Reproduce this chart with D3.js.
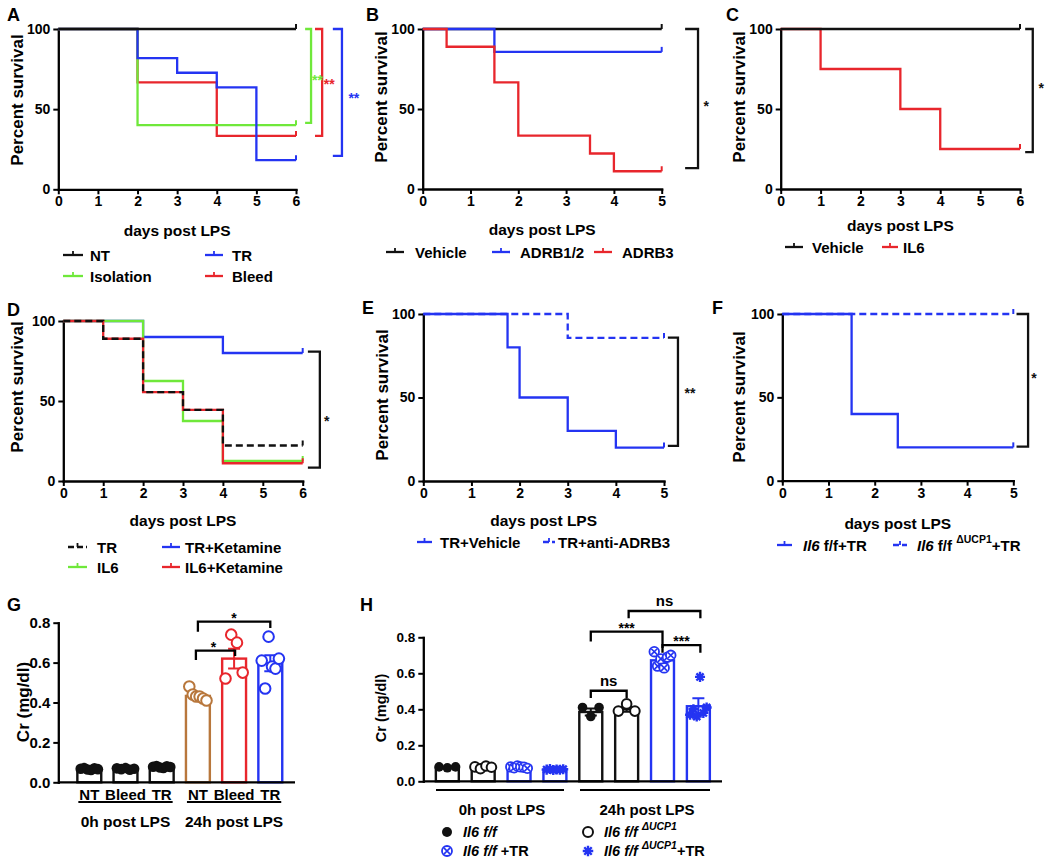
<!DOCTYPE html>
<html><head><meta charset="utf-8">
<script src="https://cdn.jsdelivr.net/npm/d3@7"></script>
<style>body{margin:0;background:#fff}svg{display:block}text{font-family:'Liberation Sans',Arial,Helvetica,sans-serif;font-weight:bold}</style>
</head><body><script>
// ================= DATA =================
// Panel A (survival %, step times in days)
const A_NT_t=[0,6], A_NT_v=[100,100];
const A_TR_t=[0,2,3,4,5,6], A_TR_v=[100,81.8,72.7,63.6,18.2,18.2];
const A_ISO_t=[0,2,6], A_ISO_v=[100,40,40];
const A_BLEED_t=[0,2,4,6], A_BLEED_v=[100,66.7,33.3,33.3];
// Panel B
const B_VEH_t=[0,5], B_VEH_v=[100,100];
const B_ADRB12_t=[0,1.5,5], B_ADRB12_v=[100,85.7,85.7];
const B_ADRB3_t=[0,0.5,1.5,2,3.5,4,5], B_ADRB3_v=[100,88.9,66.7,33.3,22.2,11.1,11.1];
// Panel C
const C_VEH_t=[0,6], C_VEH_v=[100,100];
const C_IL6_t=[0,1,3,4,6], C_IL6_v=[100,75,50,25,25];
// Panel D
const D_TR_t=[0,1,2,3,4,6], D_TR_v=[100,88.9,55.6,44.4,22.2,22.2];
const D_TRK_t=[0,2,4,6], D_TRK_v=[100,90,80,80];
const D_IL6_t=[0,2,3,4,6], D_IL6_v=[100,62.5,37.5,12.5,12.5];
const D_IL6K_t=[0,1,2,3,4,6], D_IL6K_v=[100,88.9,55.6,44.4,11.1,11.1];
// Panel E
const E_VEH_t=[0,1.75,2,3,4,5], E_VEH_v=[100,80,50,30,20,20];
const E_ANTI_t=[0,3,5], E_ANTI_v=[100,85.7,85.7];
// Panel F
const F_FF_t=[0,1.5,2.5,5], F_FF_v=[100,40,20,20];
const F_KO_t=[0,5], F_KO_v=[100,100];
// Survival tick labels
const SURV_Y_TICKS=[0,50,100];
// Panel G (Cr mg/dl)
const G_ids=['NT0','Bleed0','TR0','NT24','Bleed24','TR24'];
const G_labels=['NT','Bleed','TR','NT','Bleed','TR'];
const G_groups=['0h post LPS','24h post LPS'];
const G_mean=[0.065,0.066,0.076,0.433,0.62,0.597];
const G_sem=[0.003,0.003,0.003,0.01,0.05,0.04];
const G_pts=[[0.068,0.072,0.064,0.062,0.07,0.066],[0.07,0.066,0.072,0.063,0.068],[0.078,0.082,0.074,0.072,0.08,0.077],[0.48,0.44,0.43,0.43,0.42,0.41],[0.52,0.74,0.70,0.55],[0.61,0.47,0.73,0.58,0.57,0.62]];
const G_yticks=[0,0.2,0.4,0.6,0.8];
// Panel H
const H_ids=['ff0','ko0','ffTR0','koTR0','ff24','ko24','ffTR24','koTR24'];
const H_groups=['0h post LPS','24h post LPS'];
const H_mean=[0.075,0.075,0.076,0.066,0.385,0.40,0.672,0.417];
const H_sem=[0.002,0.003,0.002,0.002,0.02,0.013,0.013,0.045];
const H_pts=[[0.08,0.075,0.08],[0.08,0.07,0.085,0.078],[0.08,0.075,0.085,0.08,0.078,0.072],[0.065,0.068,0.063,0.066,0.064,0.067],[0.41,0.36,0.41],[0.39,0.43,0.39],[0.72,0.64,0.68,0.63,0.69,0.70],[0.37,0.40,0.36,0.58,0.38,0.41]];
const H_yticks=[0,0.2,0.4,0.6,0.8];

// ================= STYLE =================
const BLACK='#111', BLUE='#2434f2', RED='#e8262c', GREEN='#6fe83a', BROWN='#b8773c';

const W=1050,H=861;
const svg=d3.select('body').append('svg').attr('width',W).attr('height',H);
svg.append('rect').attr('width',W).attr('height',H).attr('fill','#fff');

function styleAxis(g,fs){
  g.attr('font-family',null).attr('font-size',null);
  g.select('.domain').attr('stroke','#000').attr('stroke-width',2.3).attr('stroke-linecap','square');
  g.selectAll('.tick line').attr('stroke','#000').attr('stroke-width',2);
  g.selectAll('.tick text').attr('fill','#000').style('font-size',fs+'px').style('font-weight','bold');
}
function txt(x,y,s,fs,anchor){
  return svg.append('text').attr('x',x).attr('y',y).attr('font-size',fs).attr('text-anchor',anchor||'start').attr('dominant-baseline','central').text(s);
}
function star(x,y,s,fs,color){ // asterisks: glyph sits high, shift baseline
  return svg.append('text').attr('x',x).attr('y',y+fs*0.58).attr('font-size',fs).attr('text-anchor','middle').attr('fill',color||'#000').text(s);
}
function richText(t,parts){
  parts.forEach(p=>{
    const ts=t.append('tspan').text(p.s);
    if(p.i) ts.attr('font-style','italic');
    if(p.sup) ts.attr('font-size',10.5).attr('dy',-6);
    if(p.down) ts.attr('dy',6);
  });
}

function survival(c){
  const x=d3.scaleLinear().domain([0,c.xmax]).range([c.x0,c.x1]);
  const y=d3.scaleLinear().domain([0,100]).range([c.yb,c.yt]);
  const g=svg.append('g');
  const gx=g.append('g').attr('transform',`translate(0,${c.yb})`)
    .call(d3.axisBottom(x).tickValues(d3.range(0,c.xmax+1)).tickFormat(d3.format('d')).tickSize(5).tickSizeOuter(0).tickPadding(2));
  styleAxis(gx,14);
  const gy=g.append('g').attr('transform',`translate(${c.x0},0)`)
    .call(d3.axisLeft(y).tickValues(SURV_Y_TICKS).tickFormat(d3.format('d')).tickSize(5).tickSizeOuter(0).tickPadding(3));
  styleAxis(gy,14);
  const line=d3.line().x(d=>x(d[0])).y(d=>y(d[1])).curve(d3.curveStepAfter);
  c.series.forEach(s=>{
    const pts=s.t.map((t,i)=>[t,s.v[i]]);
    g.append('path').attr('d',line(pts)).attr('fill','none').attr('stroke',s.color)
      .attr('stroke-width',2.3).attr('stroke-dasharray',s.dash?'7,4':null);
    const L=pts[pts.length-1];
    g.append('line').attr('x1',x(L[0])).attr('x2',x(L[0])).attr('y1',y(L[1])).attr('y2',y(L[1])-5)
      .attr('stroke',s.color).attr('stroke-width',2);
  });
  (c.brackets||[]).forEach(b=>{
    g.append('path').attr('d',`M${x(b.x0)},${y(b.top)}H${x(b.x1)}V${y(b.bot)}H${x(b.x0)}`)
      .attr('fill','none').attr('stroke',b.color).attr('stroke-width',2.3);
    star(x(b.lx),y(b.ly),b.label,14,b.color);
  });
  txt(c.letter[1],c.letter[2],c.letter[0],18,'start');
  svg.append('text').attr('transform',`translate(${c.ylabX},${c.ylabY}) rotate(-90)`)
    .attr('text-anchor','middle').attr('dominant-baseline','central').attr('font-size',c.ylabFs||17).text('Percent survival');
  txt((c.x0+c.x1)/2+c.xtOff,c.xtY,'days post LPS',15.5,'middle');
  c.legend.forEach(l=>{
    svg.append('line').attr('x1',l.lx0).attr('x2',l.lx1).attr('y1',l.y).attr('y2',l.y)
      .attr('stroke',l.color).attr('stroke-width',2.3).attr('stroke-dasharray',l.dash?'6,3':null);
    svg.append('line').attr('x1',(l.lx0+l.lx1)/2).attr('x2',(l.lx0+l.lx1)/2).attr('y1',l.y).attr('y2',l.y-4)
      .attr('stroke',l.color).attr('stroke-width',1.8);
    const t=svg.append('text').attr('x',l.tx).attr('y',l.y).attr('dominant-baseline','central').attr('font-size',15);
    richText(t,l.parts);
  });
}
const P=s=>[{s}];

// ---- A
survival({x0:58.3,x1:296,yt:29,yb:189.3,xmax:6,letter:['A',7,15],ylabX:17,ylabY:100,xtOff:0,xtY:230,
  series:[{t:A_BLEED_t,v:A_BLEED_v,color:RED},{t:A_ISO_t,v:A_ISO_v,color:GREEN},{t:A_TR_t,v:A_TR_v,color:BLUE},{t:A_NT_t,v:A_NT_v,color:BLACK}],
  brackets:[{x0:6.23,x1:6.38,top:100,bot:41.4,color:GREEN,label:'**',lx:6.54,ly:70},
            {x0:6.48,x1:6.66,top:100,bot:33.3,color:RED,label:'**',lx:6.84,ly:67.5},
            {x0:6.93,x1:7.16,top:100,bot:20.8,color:BLUE,label:'**',lx:7.46,ly:59}],
  legend:[{lx0:63,lx1:83,tx:90,y:255,color:BLACK,parts:P('NT')},{lx0:205,lx1:223,tx:232,y:255,color:BLUE,parts:P('TR')},
          {lx0:63,lx1:83,tx:90,y:276,color:GREEN,parts:P('Isolation')},{lx0:205,lx1:223,tx:232,y:276,color:RED,parts:P('Bleed')}]});
// ---- B
survival({x0:422.7,x1:661.7,yt:29,yb:189,xmax:5,letter:['B',366,15],ylabX:381,ylabY:97,xtOff:0,xtY:229,
  series:[{t:B_VEH_t,v:B_VEH_v,color:BLACK},{t:B_ADRB12_t,v:B_ADRB12_v,color:BLUE},{t:B_ADRB3_t,v:B_ADRB3_v,color:RED}],
  brackets:[{x0:5.49,x1:5.76,top:100,bot:13.1,color:BLACK,label:'*',lx:5.93,ly:53.7}],
  legend:[{lx0:386,lx1:404,tx:415,y:252,color:BLACK,parts:P('Vehicle')},{lx0:492,lx1:510,tx:520,y:252,color:BLUE,parts:P('ADRB1/2')},
          {lx0:594,lx1:612,tx:622,y:252,color:RED,parts:P('ADRB3')}]});
// ---- C
survival({x0:780.7,x1:1020,yt:29,yb:189,xmax:6,letter:['C',726,15],ylabX:739,ylabY:97,xtOff:0,xtY:225,
  series:[{t:C_IL6_t,v:C_IL6_v,color:RED},{t:C_VEH_t,v:C_VEH_v,color:BLACK}],
  brackets:[{x0:6.13,x1:6.32,top:100,bot:23.1,color:BLACK,label:'*',lx:6.53,ly:65}],
  legend:[{lx0:785,lx1:803,tx:812,y:247,color:BLACK,parts:P('Vehicle')},{lx0:882,lx1:898,tx:903,y:247,color:RED,parts:P('IL6')}]});
// ---- D
survival({x0:63.3,x1:302.7,yt:321,yb:481,xmax:6,letter:['D',7,310],ylabX:17,ylabY:387,xtOff:0,xtY:520,
  series:[{t:D_TRK_t,v:D_TRK_v,color:BLUE},{t:D_IL6_t,v:D_IL6_v,color:GREEN},{t:D_IL6K_t,v:D_IL6K_v,color:RED},{t:D_TR_t,v:D_TR_v,color:BLACK,dash:true}],
  brackets:[{x0:6.13,x1:6.43,top:80.8,bot:8.3,color:BLACK,label:'*',lx:6.6,ly:39.4}],
  legend:[{lx0:68,lx1:87,tx:97,y:547,color:BLACK,dash:true,parts:P('TR')},{lx0:162,lx1:180,tx:185,y:547,color:BLUE,parts:P('TR+Ketamine')},
          {lx0:68,lx1:87,tx:97,y:567,color:GREEN,parts:P('IL6')},{lx0:162,lx1:180,tx:185,y:567,color:RED,parts:P('IL6+Ketamine')}]});
// ---- E
survival({x0:423.3,x1:664,yt:314,yb:481,xmax:5,letter:['E',362,308],ylabX:382,ylabY:395,xtOff:0,xtY:520,
  series:[{t:E_ANTI_t,v:E_ANTI_v,color:BLUE,dash:true},{t:E_VEH_t,v:E_VEH_v,color:BLUE}],
  brackets:[{x0:5.08,x1:5.29,top:85.8,bot:21,color:BLACK,label:'**',lx:5.54,ly:54.5}],
  legend:[{lx0:417,lx1:432,tx:440,y:542,color:BLUE,parts:P('TR+Vehicle')},{lx0:543,lx1:555,tx:558,y:542,color:BLUE,dash:true,parts:P('TR+anti-ADRB3')}]});
// ---- F
survival({x0:782.3,x1:1013.3,yt:314,yb:480.7,xmax:5,letter:['F',712,308],ylabX:739,ylabY:397,xtOff:0,xtY:523,
  series:[{t:F_KO_t,v:F_KO_v,color:BLUE,dash:true},{t:F_FF_t,v:F_FF_v,color:BLUE}],
  brackets:[{x0:5.07,x1:5.32,top:100,bot:20.4,color:BLACK,label:'*',lx:5.45,ly:63.4}],
  legend:[{lx0:777,lx1:792,tx:803,y:545,color:BLUE,parts:[{s:'Il6',i:true},{s:' f/f+TR'}]},
          {lx0:893,lx1:907,tx:917,y:545,color:BLUE,dash:true,parts:[{s:'Il6',i:true},{s:' f/f '},{s:'ΔUCP1',sup:true},{s:'+TR',down:true}]}]});

// ================= BAR PANELS =================
function marker(g,type,cx,cy,r,color){
  if(type==='filled'){g.append('circle').attr('cx',cx).attr('cy',cy).attr('r',r).attr('fill',color);}
  else if(type==='open'){g.append('circle').attr('cx',cx).attr('cy',cy).attr('r',r).attr('fill','#fff').attr('stroke',color).attr('stroke-width',2);}
  else if(type==='cross'){
    g.append('circle').attr('cx',cx).attr('cy',cy).attr('r',r).attr('fill','#fff').attr('stroke',color).attr('stroke-width',1.8);
    const d=r*0.62;
    g.append('path').attr('d',`M${cx-d},${cy-d}L${cx+d},${cy+d}M${cx-d},${cy+d}L${cx+d},${cy-d}`).attr('stroke',color).attr('stroke-width',1.6);
  } else if(type==='star'){
    const a=r*1.05, b=a*0.71;
    g.append('path').attr('d',`M${cx-a},${cy}H${cx+a}M${cx},${cy-a}V${cy+a}M${cx-b},${cy-b}L${cx+b},${cy+b}M${cx-b},${cy+b}L${cx+b},${cy-b}`)
      .attr('stroke',color).attr('stroke-width',2.4);
  }
}
function barPanel(c){
  const x=d3.scaleBand().domain(c.ids).range(c.xr).paddingInner(c.pin).paddingOuter(c.pin/2);
  const y=d3.scaleLinear().domain([0,0.8]).range([c.yb,c.yt]);
  const g=svg.append('g');
  const bw=x.bandwidth();
  c.ids.forEach((id,i)=>{
    g.append('rect').attr('x',x(id)).attr('y',y(c.mean[i])).attr('width',bw).attr('height',c.yb-y(c.mean[i]))
      .attr('fill','#fff').attr('stroke',c.colors[i]).attr('stroke-width',2.4);
  });
  const gy=g.append('g').attr('transform',`translate(${c.x0},0)`)
    .call(d3.axisLeft(y).tickValues(c.yticks).tickFormat(d3.format('.1f')).tickSize(5).tickSizeOuter(0).tickPadding(3));
  styleAxis(gy,c.tfs);
  g.append('line').attr('x1',c.x0).attr('x2',c.xEnd).attr('y1',c.yb).attr('y2',c.yb).attr('stroke','#000').attr('stroke-width',2.3);
  c.ids.forEach((id,i)=>{
    const cx=x(id)+bw/2;
    g.append('path').attr('d',`M${cx},${y(c.mean[i]-c.sem[i])}V${y(c.mean[i]+c.sem[i])}M${cx-6},${y(c.mean[i]+c.sem[i])}H${cx+6}M${cx-6},${y(c.mean[i]-c.sem[i])}H${cx+6}`)
      .attr('stroke',c.colors[i]).attr('stroke-width',2).attr('fill','none');
  });
  c.ids.forEach((id,i)=>{
    const cx=x(id)+bw/2, pts=c.pts[i], n=pts.length, spread=bw*0.36;
    pts.forEach((v,j)=>{
      const off=n>1?(j/(n-1)*2-1)*spread:0;
      marker(g,c.markers[i],cx+off,y(v),c.r,c.colors[i]);
    });
  });
  c.brackets.forEach(b=>{
    const xa=x(c.ids[b.a])+bw/2+(b.da||0), xb=x(c.ids[b.b])+bw/2+(b.db||0);
    g.append('path').attr('d',`M${xa},${y(b.la)}V${y(b.top)}H${xb}V${y(b.lb)}`).attr('fill','none').attr('stroke','#000').attr('stroke-width',2.3);
    const mx=(xa+xb)/2+(b.dx||0);
    if(b.label==='ns') svg.append('text').attr('x',mx).attr('y',y(b.top)-5).attr('text-anchor','middle').attr('font-size',15).text('ns');
    else star(mx,y(b.top)-7,b.label,14,'#000');
  });
  return {x,y,bw};
}

// ---- G
const gG=barPanel({ids:G_ids,xr:[71.2,288.4],pin:0.34,yt:622.7,yb:782.3,x0:58.3,xEnd:295,yticks:G_yticks,tfs:15,
  mean:G_mean,sem:G_sem,pts:G_pts,colors:[BLACK,BLACK,BLACK,BROWN,RED,BLUE],markers:['filled','filled','filled','open','open','open'],r:5.3,
  brackets:[{a:3,b:4,top:0.66,la:0.613,lb:0.633,label:'*',da:-2,db:1,dx:-2},{a:3,b:5,top:0.805,la:0.755,lb:0.773,label:'*',da:0,db:0}]});
txt(7,605,'G',18,'start');
svg.append('text').attr('transform','translate(23,702) rotate(-90)').attr('text-anchor','middle').attr('dominant-baseline','central').attr('font-size',17).text('Cr (mg/dl)');
G_ids.forEach((id,i)=>{
  svg.append('text').attr('x',gG.x(id)+gG.bw/2).attr('y',794).attr('text-anchor','middle').attr('dominant-baseline','central').attr('font-size',15).text(G_labels[i]);
});
[[0,2],[3,5]].forEach((r,k)=>{
  const a=gG.x(G_ids[r[0]])+1, b=gG.x(G_ids[r[1]])+gG.bw-1;
  svg.append('line').attr('x1',a).attr('x2',b).attr('y1',802).attr('y2',802).attr('stroke','#000').attr('stroke-width',2.2);
  txt((a+b)/2,821,G_groups[k],15.5,'middle');
});

// ---- H
const HM=['filled','open','cross','star','filled','open','cross','star'];
const gH=barPanel({ids:H_ids,xr:[429.4,716.3],pin:0.36,yt:637.3,yb:781.3,x0:423.3,xEnd:722,yticks:H_yticks,tfs:13.5,
  mean:H_mean,sem:H_sem,pts:H_pts,colors:[BLACK,BLACK,BLUE,BLUE,BLACK,BLACK,BLUE,BLUE],markers:HM,r:4.8,
  brackets:[{a:4,b:5,top:0.503,la:0.463,lb:0.463,label:'ns'},
            {a:4,b:6,top:0.831,la:0.776,lb:0.74,label:'***',dx:0},
            {a:6,b:7,top:0.757,la:0.714,lb:0.714,label:'***',db:2},
            {a:5,b:7,top:0.946,la:0.906,lb:0.906,label:'ns',da:2,db:2}]});
txt(360,605,'H',18,'start');
svg.append('text').attr('transform','translate(381,708) rotate(-90)').attr('text-anchor','middle').attr('dominant-baseline','central').attr('font-size',14.5).text('Cr (mg/dl)');
[[0,3,436,564],[4,7,580,710]].forEach((r,k)=>{
  svg.append('line').attr('x1',r[2]).attr('x2',r[3]).attr('y1',790).attr('y2',790).attr('stroke','#000').attr('stroke-width',2.2);
  txt((r[2]+r[3])/2+2,809,H_groups[k],15,'middle');
});
const HL=[{m:'filled',c:BLACK,x:447,y:832,parts:[{s:'Il6 f/f',i:true}]},
          {m:'open',c:BLACK,x:588,y:832,parts:[{s:'Il6 f/f ',i:true},{s:'ΔUCP1',i:true,sup:true}]},
          {m:'cross',c:BLUE,x:447,y:851,parts:[{s:'Il6 f/f',i:true},{s:' +TR'}]},
          {m:'star',c:BLUE,x:588,y:851,parts:[{s:'Il6 f/f ',i:true},{s:'ΔUCP1',i:true,sup:true},{s:'+TR',down:true}]}];
const lg=svg.append('g');
HL.forEach(l=>{
  marker(lg,l.m,l.x,l.y,5,l.c);
  const t=svg.append('text').attr('x',l.x+16).attr('y',l.y).attr('dominant-baseline','central').attr('font-size',14.5);
  richText(t,l.parts);
});
</script></body></html>
